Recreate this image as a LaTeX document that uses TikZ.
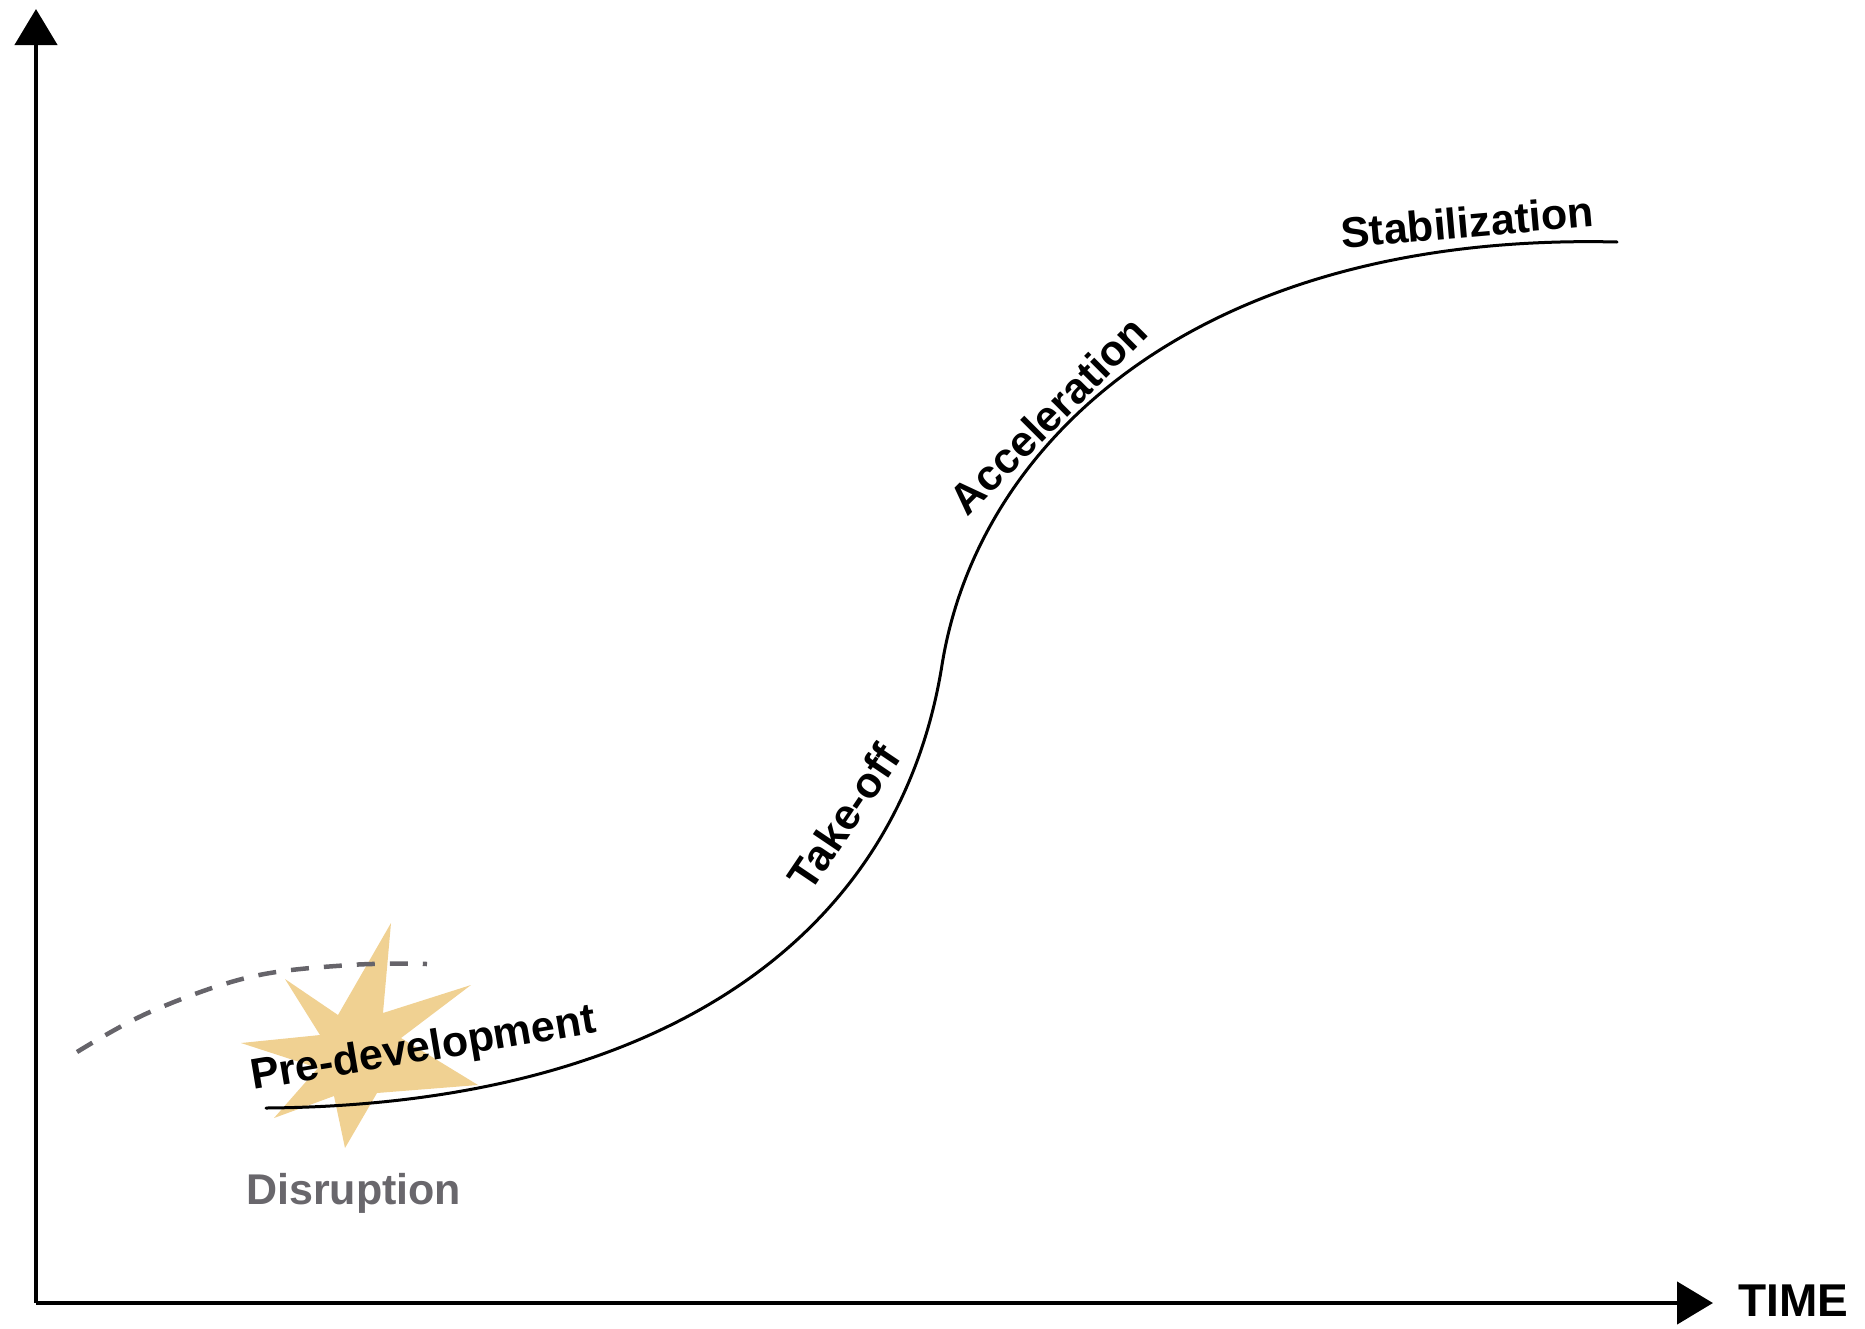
\documentclass[tikz,border=0pt]{standalone}
\usepackage{fontspec}
\setmainfont{Liberation Sans}
\usetikzlibrary{arrows.meta}
\definecolor{starcol}{RGB}{240,209,146}
\definecolor{dashgray}{RGB}{102,100,106}
\definecolor{labgray}{RGB}{105,103,108}
\tikzset{
  axis/.style={line width=4.5pt, -{Triangle[length=36pt,width=42pt]}},
  phase/.style={font=\fontsize{43}{50}\selectfont\bfseries, inner sep=0pt, text=black},
  curve/.style={line width=3pt, black, line cap=round},
  oldcurve/.style={line width=4.5pt, dashgray, dash pattern=on 18pt off 15pt},
}
\begin{document}
\begin{tikzpicture}[x=1pt,y=-1pt]
\useasboundingbox (0,0) rectangle (1865,1328);
% axes
\coordinate (ytip) at (36,9);
\coordinate (origin) at (36,1303);
\coordinate (xtip) at (1713,1303);
\draw[axis] (origin) -- (ytip);
\draw[axis] (origin) -- (xtip);
\node[phase, anchor=base west, font=\fontsize{46}{52}\selectfont\bfseries] (time) at (1738,1316) {TIME};
% starburst
\fill[starcol] (391,923) -- (383,1013) -- (471,985) -- (401,1038) -- (478,1085)
  -- (377,1093) -- (345,1148) -- (334,1096) -- (274,1118) -- (318,1068)
  -- (241,1043) -- (320,1035) -- (285,979) -- (338,1015) -- cycle;
% dashed old curve
\draw[oldcurve] plot[smooth, tension=0.6] coordinates {(77,1052) (150,1012) (250,977) (350,965) (427,964)};
% main S curve
\coordinate (s0) at (266,1108);
\coordinate (s1) at (942,665);
\coordinate (s2) at (1617,242);
\draw[curve] (s0) .. controls (650,1105) and (897,946) .. (s1)
  .. controls (978,440) and (1200,232) .. (s2);
% labels
\node[phase, anchor=base west, rotate=9.5] (pre) at (253,1090) {Pre-development};
\node[phase, rotate=56] (take) at (844,817) {Take-off};
\node[phase, rotate=45] (acc) at (1048,415) {Acceleration};
\node[phase, rotate=5] (stab) at (1467,222) {Stabilization};
\node[phase, anchor=base west, text=labgray] (dis) at (246,1204) {Disruption};
\end{tikzpicture}
\end{document}
